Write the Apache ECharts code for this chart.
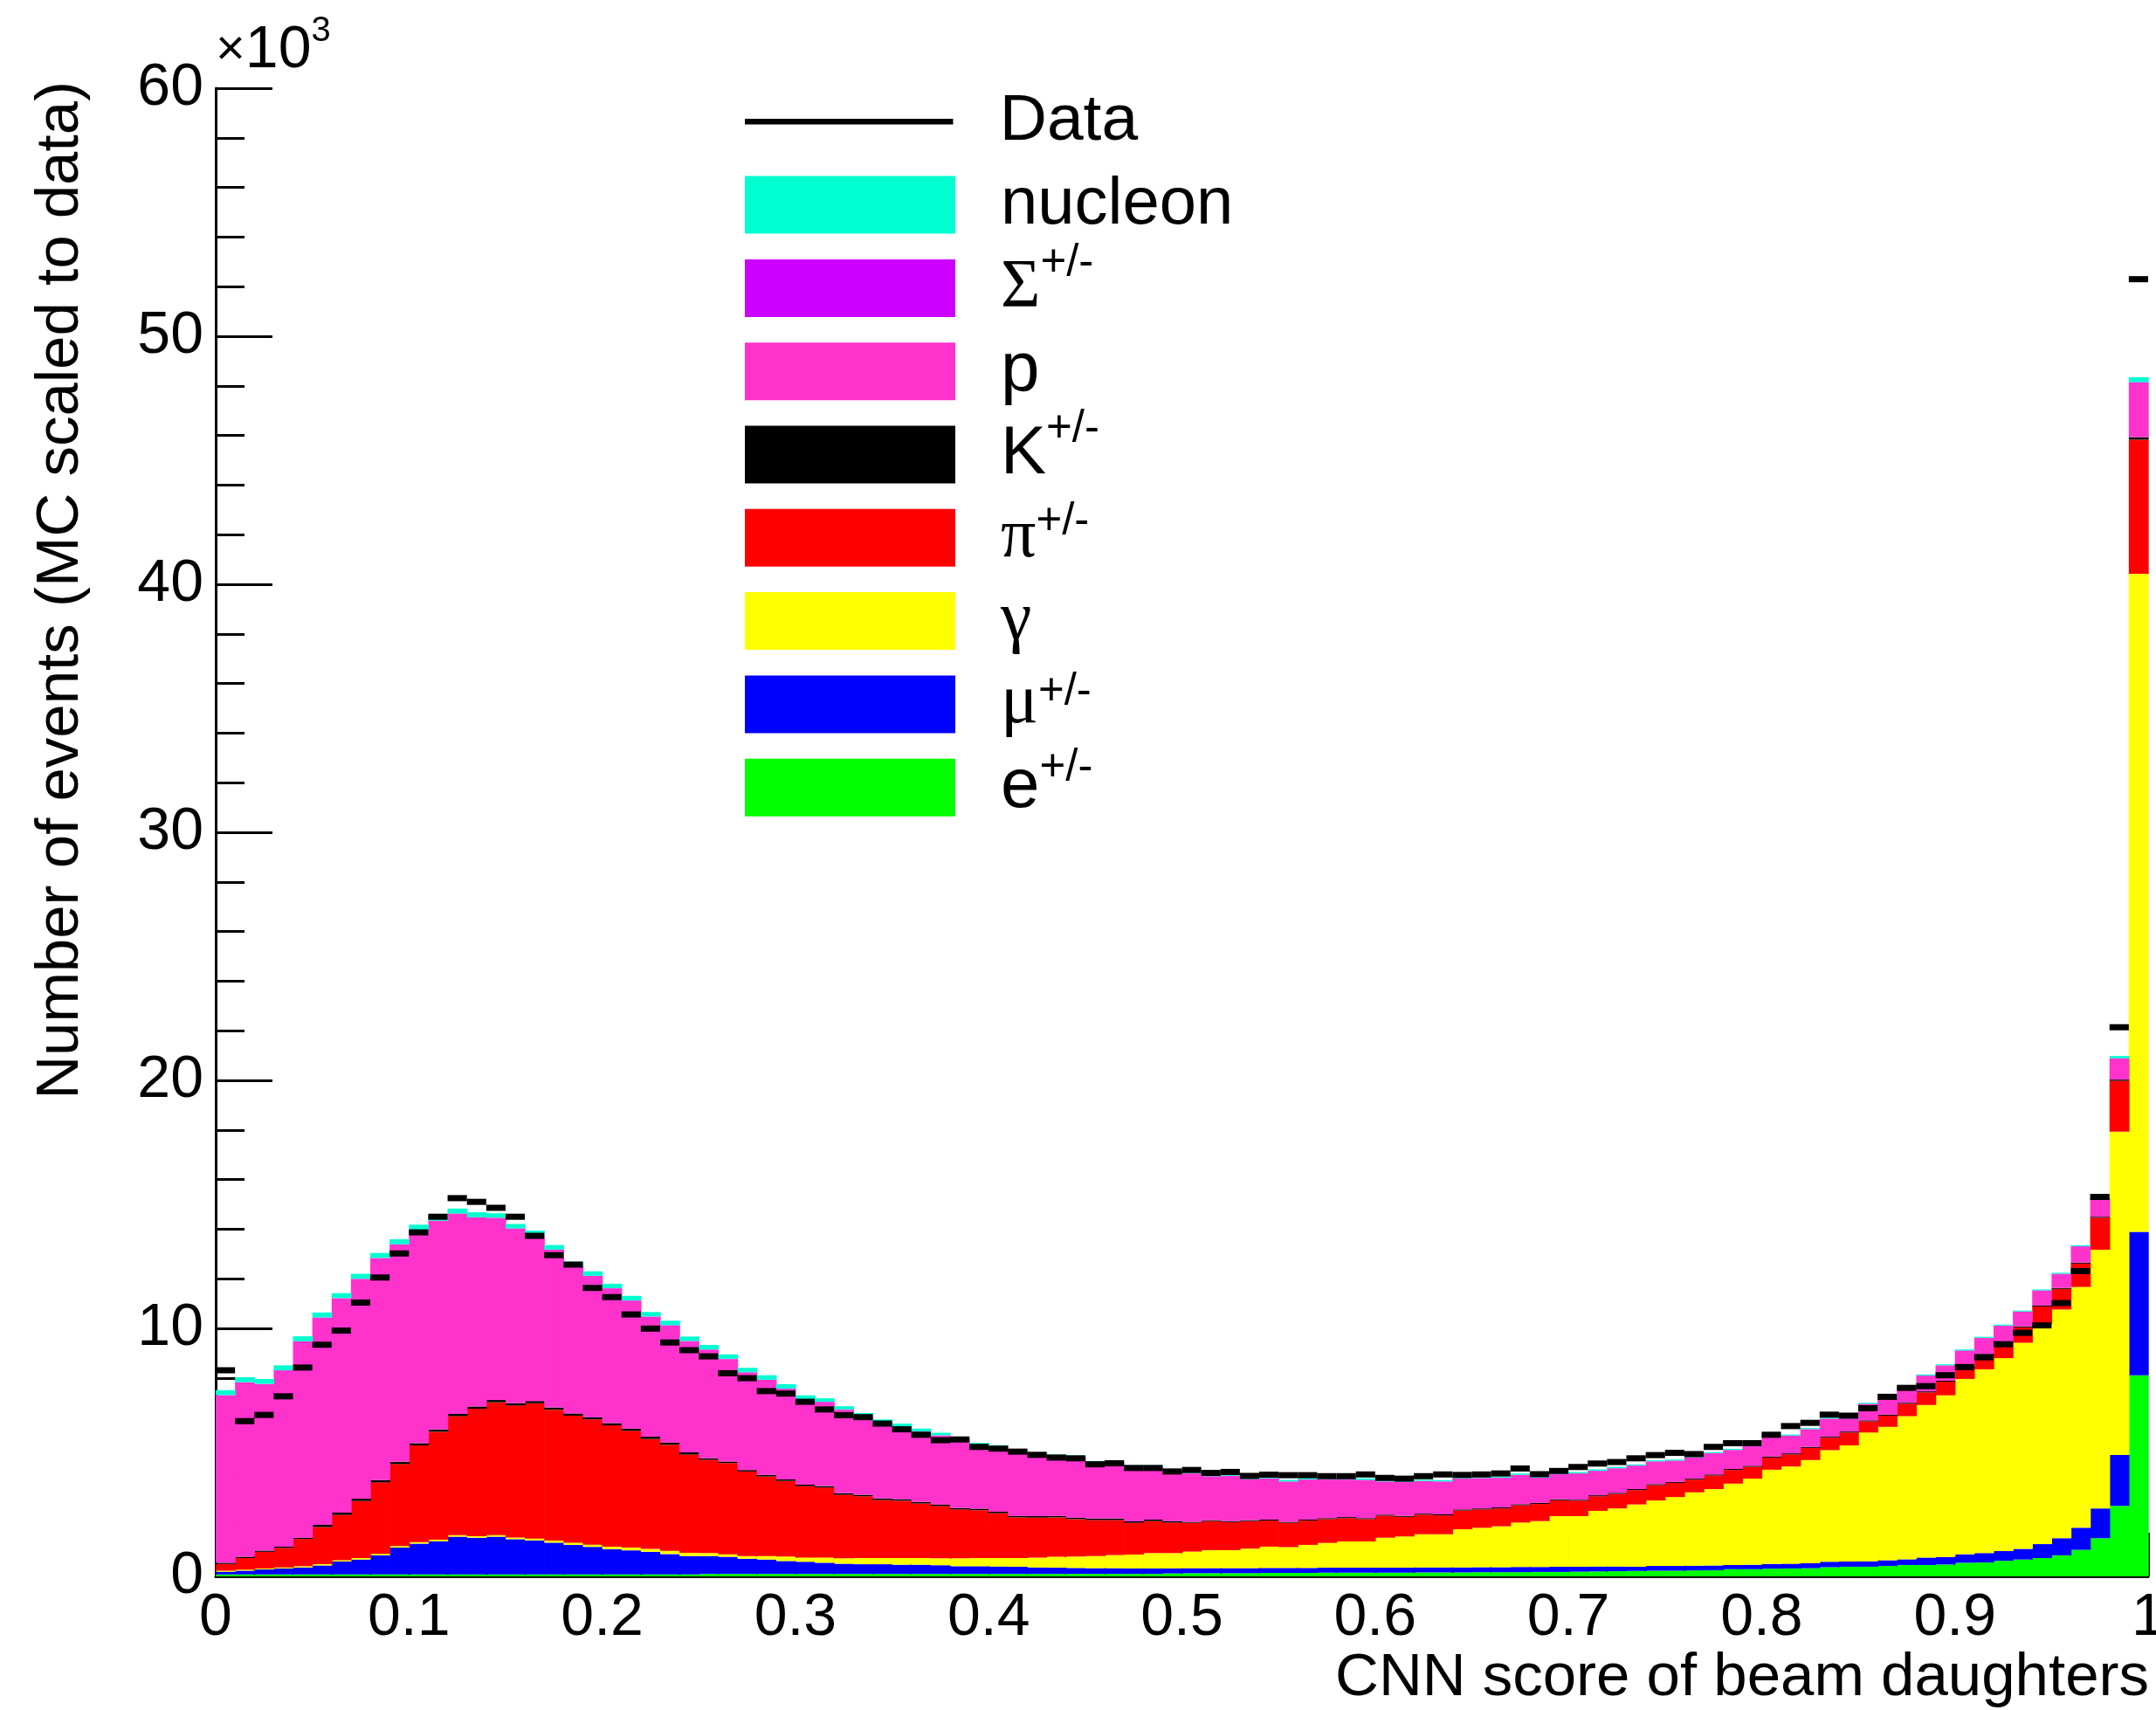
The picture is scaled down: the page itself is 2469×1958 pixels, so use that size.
<!DOCTYPE html>
<html><head><meta charset="utf-8">
<script src="https://cdn.jsdelivr.net/npm/echarts@6/dist/echarts.min.js"></script>
<style>html,body{margin:0;padding:0;background:#fff}#c{width:2469px;height:1958px}</style>
</head><body><div id="c"></div>
<script>
// ---- data (units of 10^3 events), 100 bins of width 0.01 on [0,1] ----
const binLow = Array.from({length: 100}, (_, i) => i / 100);
const xTickLabels = ['0','0.1','0.2','0.3','0.4','0.5','0.6','0.7','0.8','0.9','1'];
const yTickLabels = ['0','10','20','30','40','50','60'];

const eVals = [0.08,0.08,0.08,0.08,0.08,0.08,0.08,0.08,0.08,0.08,0.08,0.08,0.08,0.08,0.08,0.08,0.08,0.08,0.08,0.08,0.08,0.08,0.08,0.08,0.08,
 0.10,0.10,0.10,0.10,0.10,0.10,0.10,0.10,0.10,0.10,0.10,0.10,0.10,0.10,0.10,0.10,0.10,0.10,0.10,0.10,0.10,0.10,0.10,0.10,0.12,
 0.13,0.13,0.13,0.13,0.14,0.14,0.14,0.15,0.15,0.15,0.15,0.15,0.16,0.16,0.16,0.17,0.17,0.17,0.18,0.18,0.19,0.20,0.21,
 0.22,0.23,0.23,0.24,0.25,0.29,0.29,0.31,0.32,0.33,0.37,0.39,0.39,0.42,0.46,0.46,0.48,0.55,0.56,0.63,0.68,0.74,0.85,1.07,1.54,2.84,8.11];
const muVals = [0.11,0.15,0.20,0.24,0.28,0.36,0.52,0.60,0.77,1.08,1.24,1.34,1.52,1.48,1.52,1.42,1.37,1.28,1.19,1.11,1.02,0.97,0.91,0.82,0.74,
 0.72,0.69,0.61,0.58,0.52,0.49,0.45,0.41,0.39,0.39,0.37,0.37,0.35,0.31,0.31,0.30,0.29,0.26,0.25,0.24,0.23,0.23,0.22,0.22,0.20,
 0.20,0.20,0.20,0.20,0.20,0.20,0.20,0.20,0.20,0.20,0.20,0.20,0.20,0.20,0.20,0.20,0.20,0.21,0.20,0.21,0.20,0.20,0.19,
 0.17,0.19,0.19,0.19,0.19,0.17,0.18,0.19,0.19,0.20,0.22,0.21,0.22,0.23,0.23,0.30,0.30,0.34,0.38,0.39,0.43,0.56,0.69,0.89,1.20,2.05,5.78];
const gammaVals = [0.04,0.04,0.04,0.04,0.05,0.05,0.05,0.06,0.06,0.06,0.06,0.06,0.06,0.06,0.06,0.07,0.07,0.08,0.09,0.09,0.10,0.11,0.12,0.13,0.13,
 0.12,0.10,0.11,0.14,0.18,0.17,0.21,0.22,0.25,0.25,0.27,0.27,0.28,0.32,0.33,0.34,0.35,0.40,0.44,0.46,0.49,0.53,0.56,0.62,0.62,
 0.67,0.73,0.73,0.79,0.86,0.84,0.93,1.00,1.06,1.06,1.21,1.26,1.34,1.34,1.54,1.59,1.65,1.79,1.85,2.04,2.04,2.24,2.34,
 2.51,2.64,2.78,2.96,3.08,3.28,3.47,3.80,3.92,4.16,4.50,4.68,5.19,5.38,5.77,6.15,6.52,7.07,7.41,7.78,8.31,8.87,9.22,9.71,10.43,13.04,26.53];
const piVals = [0.27,0.47,0.67,0.79,1.10,1.50,1.83,2.30,2.88,3.31,3.90,4.35,4.80,5.14,5.36,5.32,5.46,5.28,5.12,5.05,4.89,4.71,4.43,4.28,3.96,
 3.76,3.68,3.41,3.21,3.05,2.88,2.82,2.56,2.49,2.34,2.31,2.20,2.11,1.97,1.93,1.81,1.64,1.61,1.59,1.51,1.45,1.41,1.28,1.29,1.23,
 1.16,1.17,1.13,1.11,1.05,0.98,0.98,0.96,0.94,0.90,0.89,0.79,0.79,0.76,0.76,0.74,0.72,0.70,0.69,0.64,0.62,0.59,0.59,
 0.58,0.62,0.57,0.51,0.55,0.55,0.48,0.49,0.49,0.49,0.50,0.52,0.45,0.45,0.50,0.51,0.55,0.45,0.58,0.61,0.62,0.71,0.83,0.94,1.29,2.05,5.41];
const kVals = [0.05,0.05,0.05,0.05,0.05,0.09,0.09,0.09,0.09,0.09,0.09,0.09,0.09,0.09,0.09,0.09,0.09,0.09,0.09,0.09,0.09,0.09,0.09,0.09,0.09,
 0.06,0.06,0.06,0.06,0.06,0.06,0.06,0.06,0.06,0.06,0.06,0.06,0.06,0.06,0.06,0.06,0.06,0.06,0.06,0.06,0.06,0.06,0.06,0.06,0.06,
 0.04,0.04,0.04,0.04,0.04,0.04,0.04,0.04,0.04,0.04,0.04,0.04,0.04,0.04,0.04,0.04,0.04,0.04,0.04,0.04,0.04,0.04,0.04,
 0.04,0.04,0.04,0.04,0.04,0.04,0.04,0.04,0.04,0.04,0.04,0.04,0.04,0.04,0.04,0.04,0.04,0.04,0.04,0.04,0.04,0.04,0.04,0.04,0.04,0.05,0.10];
const pVals = [6.75,7.03,6.71,7.10,7.91,8.35,8.64,8.86,8.95,8.76,8.60,8.41,8.07,7.62,7.34,7.04,6.68,6.36,5.93,5.69,5.43,5.16,4.84,4.72,4.48,
 4.38,4.13,3.93,3.83,3.65,3.41,3.39,3.37,3.17,3.06,2.92,2.84,2.78,2.77,2.56,2.60,2.61,2.50,2.41,2.43,2.25,2.25,2.19,2.12,1.99,
 1.95,1.76,1.82,1.64,1.65,1.62,1.61,1.55,1.51,1.53,1.33,1.36,1.31,1.32,1.24,1.22,1.19,1.18,1.01,1.00,1.06,0.98,0.98,
 0.94,0.91,0.85,0.85,0.85,0.76,0.78,0.78,0.71,0.71,0.72,0.52,0.66,0.65,0.63,0.63,0.61,0.65,0.64,0.65,0.59,0.60,0.56,0.65,0.73,0.85,2.20];
const sigmaVals = [0.01,0.01,0.01,0.01,0.01,0.01,0.01,0.01,0.01,0.01,0.01,0.01,0.01,0.01,0.01,0.01,0.01,0.01,0.01,0.01,0.01,0.01,0.01,0.01,0.01,
 0.01,0.01,0.01,0.01,0.01,0.01,0.01,0.01,0.01,0.01,0.01,0.01,0.01,0.01,0.01,0.01,0.01,0.01,0.01,0.01,0.01,0.01,0.01,0.01,0.01,
 0.01,0.01,0.01,0.01,0.01,0.01,0.01,0.01,0.01,0.01,0.01,0.01,0.01,0.01,0.01,0.01,0.01,0.01,0.01,0.01,0.01,0.01,0.01,
 0.01,0.01,0.01,0.01,0.01,0.01,0.01,0.01,0.01,0.01,0.01,0.01,0.01,0.01,0.01,0.01,0.01,0.01,0.01,0.01,0.01,0.01,0.01,0.01,0.01,0.01,0.02];
const nucleonVals = [0.20,0.20,0.20,0.20,0.20,0.20,0.20,0.20,0.20,0.20,0.20,0.20,0.20,0.20,0.18,0.18,0.18,0.18,0.18,0.18,0.18,0.18,0.18,0.18,0.18,
 0.18,0.18,0.18,0.18,0.18,0.18,0.14,0.13,0.12,0.12,0.12,0.11,0.10,0.08,0.08,0.07,0.06,0.06,0.06,0.06,0.06,0.06,0.06,0.06,0.06,
 0.06,0.06,0.06,0.06,0.06,0.06,0.06,0.06,0.06,0.06,0.05,0.05,0.05,0.05,0.05,0.05,0.05,0.05,0.05,0.05,0.05,0.05,0.05,
 0.04,0.04,0.04,0.04,0.04,0.04,0.04,0.04,0.04,0.04,0.04,0.04,0.04,0.04,0.04,0.04,0.04,0.04,0.04,0.04,0.04,0.04,0.04,0.04,0.05,0.09,0.20];
const dataVals = [8.31,6.26,6.51,7.26,8.42,9.34,9.91,11.04,12.05,13.02,13.87,14.50,15.25,15.10,14.86,14.50,13.73,12.95,12.57,11.63,11.26,10.56,9.99,9.43,9.12,
 8.87,8.19,7.99,7.47,7.37,7.04,6.73,6.50,6.42,6.16,5.93,5.71,5.49,5.52,5.22,5.15,5.03,4.90,4.79,4.76,4.52,4.56,4.37,4.37,4.23,
 4.29,4.17,4.21,4.05,4.10,4.08,4.08,4.04,4.04,4.11,3.97,3.94,4.04,4.11,4.09,4.11,4.15,4.35,4.12,4.25,4.41,4.55,4.61,
 4.76,4.89,4.98,4.93,5.22,5.37,5.37,5.71,6.06,6.19,6.52,6.48,6.78,7.24,7.60,7.67,8.11,8.44,8.83,9.36,9.82,10.12,11.02,12.31,15.30,22.14,52.30];

// stacking order, bottom to top
const species = [
  {name:'e+/-',    vals:eVals,       color:'#00ff00'},
  {name:'μ+/-',    vals:muVals,      color:'#0000ff'},
  {name:'γ',       vals:gammaVals,   color:'#ffff00'},
  {name:'π+/-',    vals:piVals,      color:'#ff0000'},
  {name:'K+/-',    vals:kVals,       color:'#000000'},
  {name:'p',       vals:pVals,       color:'#ff33cc'},
  {name:'Σ+/-',    vals:sigmaVals,   color:'#cc00ff'},
  {name:'nucleon', vals:nucleonVals, color:'#00ffd0'}
];
const legendOrder = ['Data','nucleon','Σ+/-','p','K+/-','π+/-','γ','μ+/-','e+/-'];

const SANS = 'Liberation Sans, Arial, Helvetica, sans-serif';
const SERIF = 'Liberation Serif, Times New Roman, serif';
const BW = binLow[1] - binLow[0];

const cum = new Array(100).fill(0);
const series = species.map(sp => {
  const d = sp.vals.map((v, i) => { const lo = cum[i]; cum[i] += v; return [i, lo, cum[i]]; });
  return {
    type:'custom', name: sp.name, itemStyle:{color: sp.color}, data: d, z: 2,
    renderItem: (params, api) => {
      const i = api.value(0);
      const p0 = api.coord([binLow[i], api.value(1)]);
      const p1 = api.coord([binLow[i] + BW, api.value(2)]);
      return {type:'rect', shape:{x:p0[0], y:p1[1], width:p1[0]-p0[0]+0.7, height:p0[1]-p1[1]},
              style:{fill: sp.color}};
    }
  };
});
series.push({
  type:'custom', name:'Data', itemStyle:{color:'#000'}, z: 5,
  data: dataVals.map((v, i) => [i, v]),
  renderItem: (params, api) => {
    const i = api.value(0);
    const p0 = api.coord([binLow[i], api.value(1)]);
    const p1 = api.coord([binLow[i] + BW, api.value(1)]);
    return {type:'rect', shape:{x:p0[0], y:p0[1]-3.5, width:p1[0]-p0[0], height:7}, style:{fill:'#000'}};
  }
});

// legend text: fixed line box of 130 px so every entry has the same height
const LINE = 130;
const supStyle = P => ({fontSize:51, fontFamily:SANS, color:'#000', lineHeight:2, padding:[0,0,P,0], verticalAlign:'middle'});
const baseStyle = (F, fam) => ({fontSize:F, fontFamily:fam, color:'#000', lineHeight:LINE, verticalAlign:'middle'});
const RICH = {
  dat: baseStyle(75, SANS), nuc: baseStyle(76, SANS), sig: baseStyle(78, SERIF), pp: baseStyle(80, SANS),
  kk: baseStyle(78, SANS), pi: baseStyle(80, SERIF), ga: baseStyle(80, SERIF), mu: baseStyle(80, SERIF), ee: baseStyle(80, SANS),
  sS: supStyle(55), sK: supStyle(58), sPi: supStyle(35), sMu: supStyle(27), sE: supStyle(43)
};
const LEGEND_TEXT = {
  'Data':'{dat|Data}', 'nucleon':'{nuc|nucleon}', 'Σ+/-':'{sig|Σ}{sS|+/-}', 'p':'{pp|p}',
  'K+/-':'{kk|K}{sK|+/-}', 'π+/-':'{pi|π}{sPi|+/-}', 'γ':'{ga|γ}', 'μ+/-':'{mu|μ}{sMu|+/-}', 'e+/-':'{ee|e}{sE|+/-}'
};
const DATA_ICON = 'path://M0,0h1v0.05h-1z M0,30h241v6.7h-241z M240,66.65h1v0.05h-1z';

const legends = legendOrder.map((name, k) => ({
  orient:'vertical', left:853, top:106.3 + 95.3 * k - (LINE - 66) / 2, padding:0, itemWidth:241, itemHeight:66,
  selectedMode:false, itemStyle:{borderWidth:0},
  textStyle:{color:'#000', fontFamily:SANS, fontSize:72, lineHeight:LINE, padding:[0,0,0,47], rich:RICH},
  formatter: n => LEGEND_TEXT[n],
  data:[{name:name, icon: name === 'Data' ? DATA_ICON : 'rect'}]
}));

const chart = echarts.init(document.getElementById('c'), null, {renderer:'canvas'});
chart.setOption({
  backgroundColor:'#fff',
  animation:false,
  grid:{left:247, right:9, top:101, bottom:153, containLabel:false, outerBoundsMode:'none'},
  xAxis:{type:'value', min:0, max:1, interval:0.1,
    axisLine:{show:true, onZero:false, lineStyle:{color:'#000', width:3}},
    axisTick:{show:true, inside:true, length:50, lineStyle:{color:'#000', width:3}},
    minorTick:{show:true, splitNumber:5, length:25, lineStyle:{color:'#000', width:3}},
    splitLine:{show:false}, minorSplitLine:{show:false},
    axisLabel:{margin:14, fontSize:68, fontFamily:SANS, color:'#000',
      formatter: v => xTickLabels[Math.round(v*10)]}
  },
  yAxis:{type:'value', min:0, max:60, interval:10,
    axisLine:{show:true, lineStyle:{color:'#000', width:3}},
    axisTick:{show:true, inside:true, length:65, lineStyle:{color:'#000', width:3}},
    minorTick:{show:true, splitNumber:5, length:33, lineStyle:{color:'#000', width:3}},
    splitLine:{show:false}, minorSplitLine:{show:false},
    axisLabel:{margin:14, fontSize:68, fontFamily:SANS, color:'#000',
      formatter: v => yTickLabels[Math.round(v/10)]}
  },
  legend: legends,
  graphic:[
    {type:'text', x:2461, y:1922, style:{text:'CNN score of beam daughters', font:'69px '+SANS, fill:'#000', align:'right', verticalAlign:'middle'}},
    {type:'text', x:70, y:93, rotation:Math.PI/2, style:{text:'Number of events (MC scaled to data)', font:'69px '+SANS, fill:'#000', align:'right', verticalAlign:'middle'}},
    {type:'text', x:247, y:58, style:{text:'{x|×}{n|10}{s|3}', fill:'#000', align:'left', verticalAlign:'middle',
      rich:{x:{fontSize:58, fontFamily:SANS, lineHeight:60, verticalAlign:'middle'},
            n:{fontSize:68, fontFamily:SANS, lineHeight:60, verticalAlign:'middle'},
            s:{fontSize:40, fontFamily:SANS, lineHeight:2, padding:[0,0,44,0], verticalAlign:'middle'}}}}
  ],
  series: series
});
</script></body></html>
